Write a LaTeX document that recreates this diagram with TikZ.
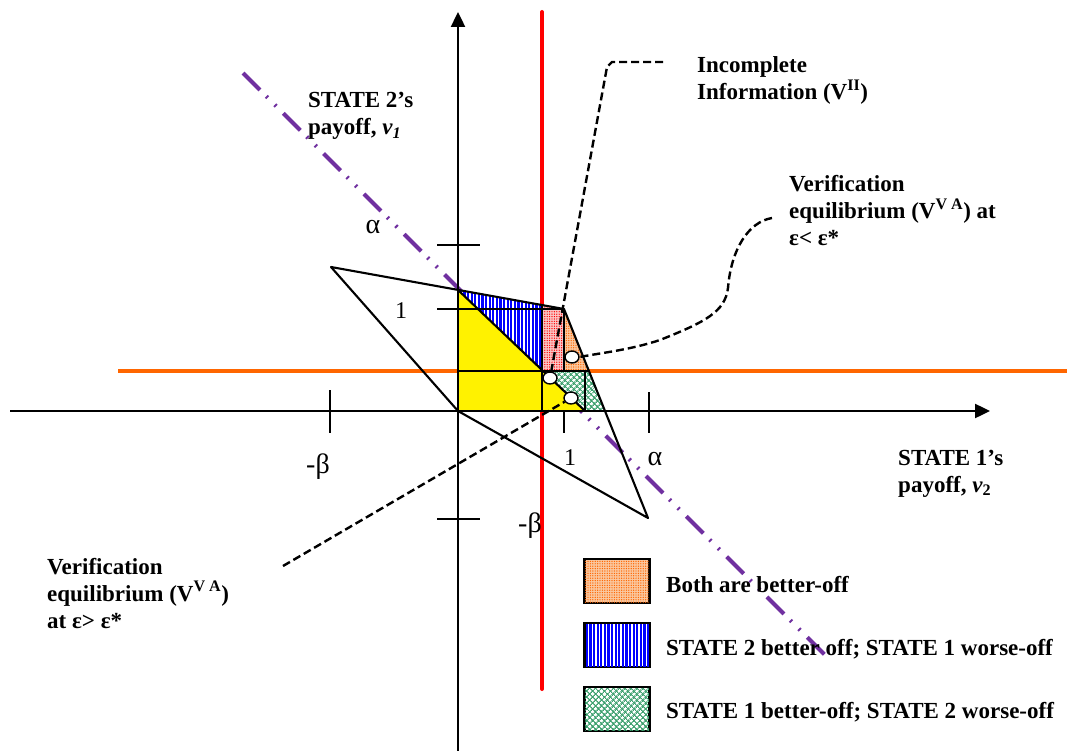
\documentclass[tikz,border=0pt]{standalone}
\usepackage{fontspec}
\setmainfont{Liberation Serif}
\usetikzlibrary{arrows.meta,patterns.meta,shapes.geometric}
\definecolor{purp}{RGB}{112,48,160}
\definecolor{orng}{RGB}{255,102,0}
\definecolor{grn}{RGB}{60,160,110}
\definecolor{peach}{RGB}{250,200,160}
\definecolor{pink}{RGB}{250,200,200}
\begin{document}
\begin{tikzpicture}[x=1pt,y=-1pt,
  lbl/.style={font=\bfseries\fontsize{23}{27}\selectfont, align=left, inner sep=0pt, anchor=base west},
  num/.style={font=\fontsize{24}{26}\selectfont, inner sep=0pt},
  greek/.style={font=\fontsize{28}{30}\selectfont, inner sep=0pt},
  edge/.style={line width=2.1pt, line join=round},
  axis/.style={line width=2.4pt, -{Triangle[length=15pt,width=14pt]}},
  tick/.style={line width=2pt},
  lead/.style={line width=2.4pt, dash pattern=on 8pt off 4pt},
  spot/.style={ellipse, draw, fill=white, line width=1.4pt, minimum width=14pt, minimum height=12pt, inner sep=0pt},
  bluefill/.style={fill=white, pattern={Lines[angle=90,distance=3.6pt,line width=2.2pt]}, pattern color=blue},
  redfill/.style={pattern={Dots[radius=0.7pt,distance=2.4pt]}, pattern color=red},
  orangefill/.style={pattern={Dots[radius=0.7pt,distance=2.4pt]}, pattern color=orng},
  greenfill/.style={pattern={Hatch[angle=45,distance=4pt,line width=0.7pt]}, pattern color=grn},
  legbox/.style={draw, line width=1.8pt, minimum width=64pt, minimum height=43pt, inner sep=0pt}
]
\useasboundingbox (0,0) rectangle (1067,751);

% long reference lines
\draw[orng, line width=3.4pt] (118,371) -- (1067,371);
\draw[red, line width=4pt, line cap=round] (542,12) -- (542,689);
\draw[purp, line width=4pt, dash pattern=on 24pt off 9pt on 2pt off 10pt on 2pt off 10pt] (243,73) -- (830,660);

% filled regions
\fill[yellow] (458,290) -- (542,371) -- (542,411) -- (458,411) -- cycle;
\fill[yellow] (542,371) -- (585,411) -- (542,411) -- cycle;
\fill[white] (458,290) -- (542,305) -- (542,371) -- cycle;
\fill[bluefill] (458,290) -- (542,305) -- (542,371) -- cycle;
\fill[pink] (542,305) -- (564,309) -- (564,371) -- (542,371) -- cycle;
\fill[redfill] (542,305) -- (564,309) -- (564,371) -- (542,371) -- cycle;
\fill[peach] (564,309) -- (589,371) -- (564,371) -- cycle;
\fill[orangefill] (564,309) -- (589,371) -- (564,371) -- cycle;
\fill[white] (542,371) -- (589,371) -- (605,411) -- (585,411) -- cycle;
\fill[greenfill] (542,371) -- (589,371) -- (605,411) -- (585,411) -- cycle;
\fill[greenfill, pattern={Hatch[angle=-45,distance=4pt,line width=0.7pt]}] (542,371) -- (589,371) -- (605,411) -- (585,411) -- cycle;

% polygon and internal lines
\draw[edge] (331,267) -- (564,309) -- (648,518) -- (458,411) -- cycle;
\draw[edge] (458,290) -- (585,411);
\draw[edge] (458,371) -- (589,371);
\draw[edge] (542,305) -- (542,411);
\draw[edge] (564,309) -- (564,371);
\draw[edge] (585,371) -- (585,411);

% axes
\draw[axis] (458,751) -- (458,12);
\draw[axis] (10,411) -- (990,411);

% ticks
\draw[tick] (330,390) -- (330,433);
\draw[tick] (564,411) -- (564,433);
\draw[tick] (649,392) -- (649,433);
\draw[tick] (437,245) -- (480,245);
\draw[tick] (437,309) -- (564,309);
\draw[tick] (437,519) -- (480,519);

% tick labels
\node[greek] (ya) at (373,227) {α};
\node[num] (y1) at (401,311) {1};
\node[greek] (xmb) at (318,467) {-β};
\node[num] (x1) at (570,458) {1};
\node[greek] (xa) at (655,459) {α};
\node[greek] (ymb) at (530,526) {-β};

% equilibrium points
\node[spot] (c1) at (572,357) {};
\node[spot] (c2) at (550,378) {};
\node[spot] (c3) at (571,398) {};

% labels (base anchor = baseline of last line)
\node[lbl] (s2) at (308,135) {STATE 2’s\\payoff, \textit{v}\textsubscript{\textit{1}}};
\node[lbl] (inc) at (697,100) {Incomplete\\Information (V\textsuperscript{II})};
\node[lbl] (vlt) at (789,246) {Verification\\equilibrium (V\textsuperscript{V A}) at\\ε< ε*};
\node[lbl] (vgt) at (47,628) {Verification\\equilibrium (V\textsuperscript{V A})\\at ε> ε*};
\node[lbl] (s1) at (898,492) {STATE 1’s\\payoff, \textit{v}\textsubscript{2}};

% leader lines
\coordinate (incend) at (663,62);
\coordinate (vltend) at (772,218);
\coordinate (vgtend) at (283,566);
\draw[lead] (incend) -- (612,62) -- (607,67) -- (c2);
\draw[lead] (vltend) .. controls (748,222) and (731,250) .. (728,288)
  .. controls (725,312) and (705,322) .. (660,340)
  .. controls (630,350) and (600,353) .. (c1.east);
\draw[lead] (vgtend) -- (c3);

% legend
\node[legbox, fill=peach] (lb1) at (617,581) {};
\fill[orangefill] (lb1.south west) rectangle (lb1.north east);
\draw[line width=1.8pt] (lb1.south west) rectangle (lb1.north east);
\node[legbox, fill=white] (lb2) at (617,645) {};
\fill[bluefill] (lb2.south west) rectangle (lb2.north east);
\draw[line width=1.8pt] (lb2.south west) rectangle (lb2.north east);
\node[legbox, fill=white] (lb3) at (617,709) {};
\fill[greenfill] (lb3.south west) rectangle (lb3.north east);
\fill[greenfill, pattern={Hatch[angle=-45,distance=4pt,line width=0.7pt]}] (lb3.south west) rectangle (lb3.north east);
\draw[line width=1.8pt] (lb3.south west) rectangle (lb3.north east);
\node[lbl] (t1) at (666,592) {Both are better-off};
\node[lbl] (t2) at (666,655) {STATE 2 better off; STATE 1 worse-off};
\node[lbl] (t3) at (666,718) {STATE 1 better-off; STATE 2 worse-off};
\end{tikzpicture}
\end{document}
